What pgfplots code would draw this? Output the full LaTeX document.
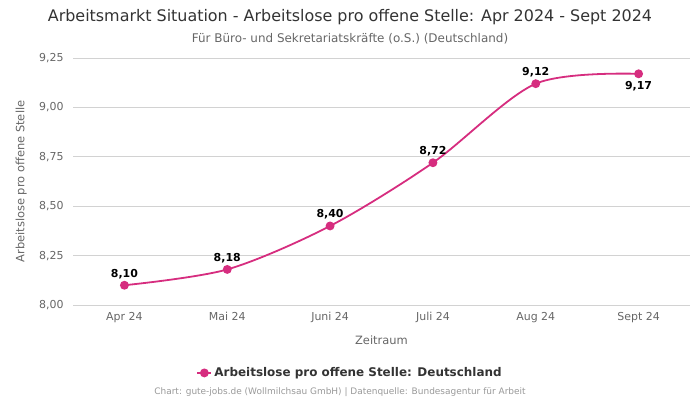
\documentclass[border=0pt]{standalone}
\usepackage{pgfplots}
\pgfplotsset{compat=1.18}
\usepackage{fontspec}
\setmainfont{DejaVu Sans}
\definecolor{serie}{RGB}{214,45,127}
\definecolor{gridc}{RGB}{210,210,210}
\definecolor{txt}{RGB}{51,51,51}
\definecolor{tickc}{RGB}{102,102,102}
\definecolor{footc}{RGB}{153,153,153}
\begin{document}
\begin{tikzpicture}[x=1bp,y=1bp]
\path[use as bounding box] (0,0) rectangle (700,400);
\node[font=\fontsize{16}{19}\selectfont, text=txt] at (350,383) {Arbeitsmarkt Situation - Arbeitslose pro offene Stelle: Apr 2024 - Sept 2024};
\node[font=\fontsize{12}{14}\selectfont, text=tickc] at (350,361) {Für Büro- und Sekretariatskräfte (o.S.) (Deutschland)};
\node[font=\fontsize{9}{11}\selectfont, text=footc] at (340,8) {Chart: gute-jobs.de (Wollmilchsau GmbH) | Datenquelle: Bundesagentur für Arbeit};
\begin{axis}[
  at={(73bp,95bp)}, anchor=south west,
  scale only axis, width=617bp, height=247bp,
  xmin=-0.5, xmax=5.5, ymin=8, ymax=9.25,
  xtick={0,1,2,3,4,5},
  xticklabels={Apr 24,Mai 24,Juni 24,Juli 24,Aug 24,Sept 24},
  ytick={8,8.25,8.5,8.75,9,9.25},
  yticklabel={\pgfmathprintnumber[fixed,fixed zerofill,precision=2,use comma]{\tick}},
  /pgf/number format/assume math mode=true,
  ymajorgrids, grid style={gridc, line width=0.8bp},
  axis line style={draw=none},
  x axis line style={draw=gridc},
  separate axis lines,
  axis x line*=bottom,
  major tick length=0pt,
  tick label style={font=\fontsize{11}{13}\selectfont, text=tickc},
  xticklabel style={yshift=-4bp},
  yticklabel style={xshift=-6bp},
  xlabel={Zeitraum}, ylabel={Arbeitslose pro offene Stelle},
  every axis x label/.style={at={(axis description cs:0.5,-0.142)}, anchor=center, font=\fontsize{11.5}{13}\selectfont, text=tickc},
  every axis y label/.style={at={(axis description cs:-0.084,0.5)}, rotate=90, anchor=center, font=\fontsize{11.5}{13}\selectfont, text=tickc},
  legend style={at={(axis description cs:0.449,-0.275)}, anchor=center, draw=none, fill=none,
    font=\fontsize{12}{14}\selectfont\bfseries, text=txt, legend cell align=left},
  legend image code/.code={\draw[#1, line width=2bp] (0bp,0bp) -- (14bp,0bp); \fill[serie] (7bp,0bp) circle (3.5bp);},
  clip=false,
]
\addplot[serie, line width=1.8bp, smooth, tension=0.5, mark=*, mark size=3.5bp, mark options={fill=serie, draw=serie}]
  coordinates {(0,8.10) (1,8.18) (2,8.40) (3,8.72) (4,9.12) (5,9.17)};
\addlegendentry{Arbeitslose pro offene Stelle: Deutschland}
\addplot[draw=none, mark=none, forget plot,
  nodes near coords={\pgfmathprintnumber[fixed,fixed zerofill,precision=2,use comma]{\pgfplotspointmeta}},
  point meta=explicit,
  every node near coord/.append style={font=\fontsize{11}{13}\selectfont\bfseries, text=black, anchor=south, yshift=3bp}]
  coordinates {(0,8.10) [8.10] (1,8.18) [8.18] (2,8.40) [8.40] (3,8.72) [8.72] (4,9.12) [9.12]};
\addplot[draw=none, mark=none, forget plot,
  nodes near coords={\pgfmathprintnumber[fixed,fixed zerofill,precision=2,use comma]{\pgfplotspointmeta}},
  point meta=explicit,
  every node near coord/.append style={font=\fontsize{11}{13}\selectfont\bfseries, text=black, anchor=north, yshift=-4bp}]
  coordinates {(5,9.17) [9.17]};
\end{axis}
\end{tikzpicture}
\end{document}
